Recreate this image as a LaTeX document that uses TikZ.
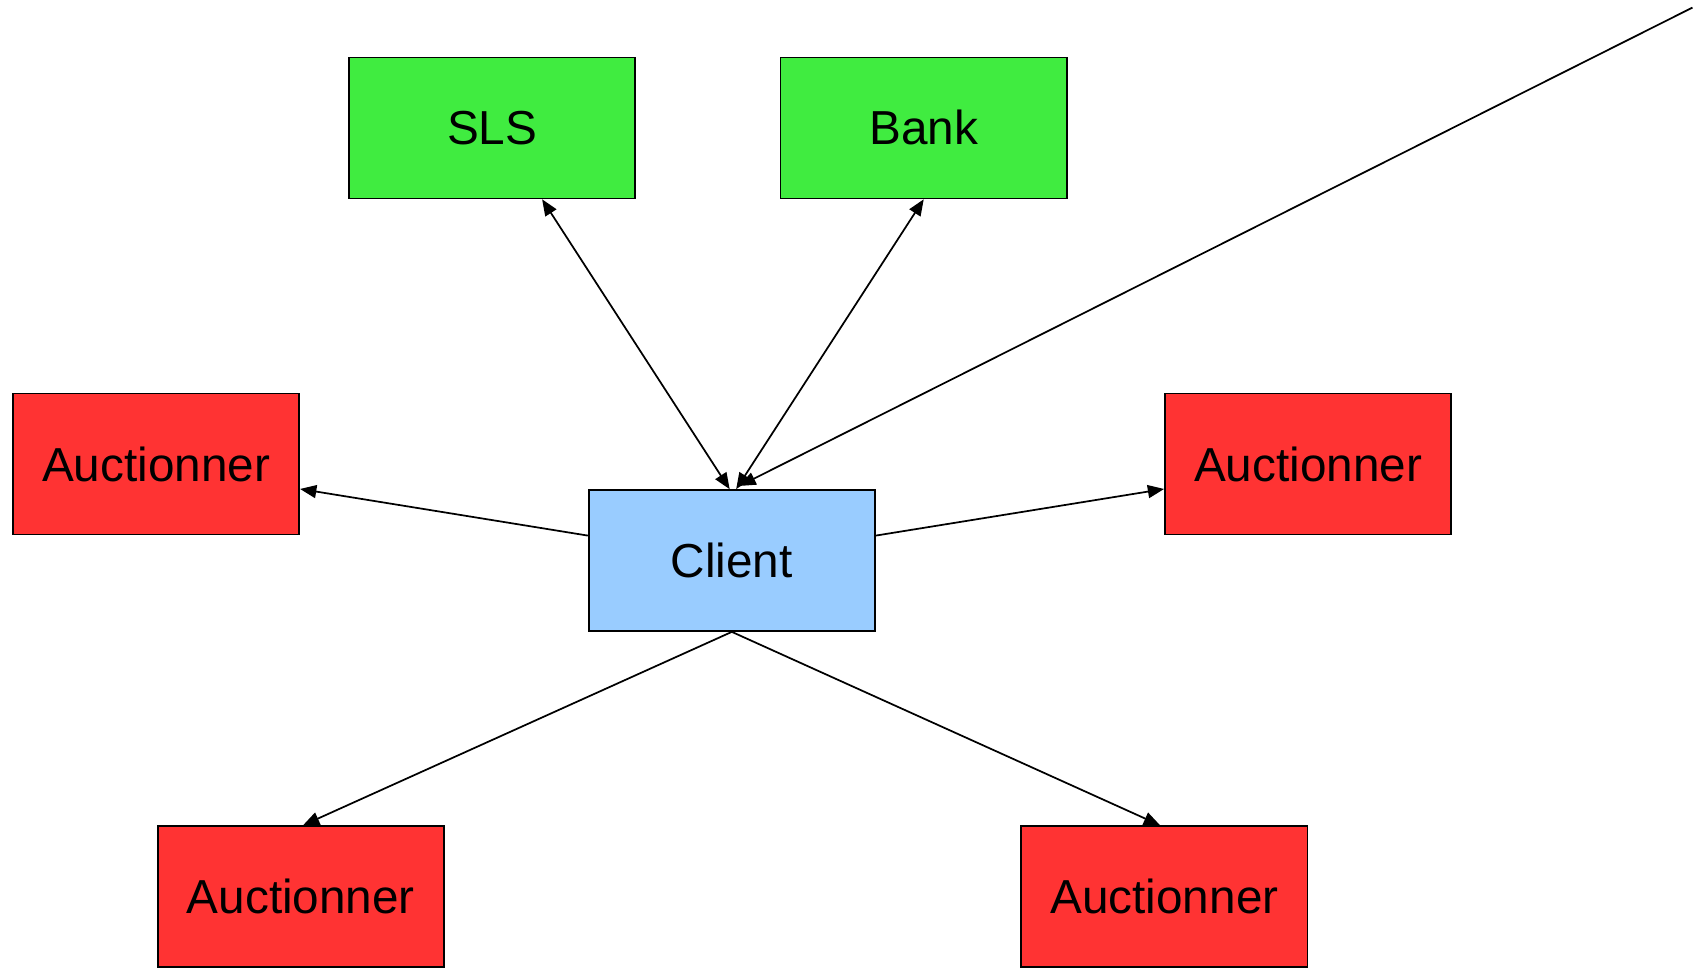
\documentclass[tikz,border=0pt]{standalone}
\usepackage{fontspec}
\setmainfont{Liberation Sans}
\usetikzlibrary{arrows.meta}
\definecolor{boxgreen}{RGB}{64,236,64}
\definecolor{boxred}{RGB}{255,51,51}
\definecolor{boxblue}{RGB}{153,204,255}
\begin{document}
\begin{tikzpicture}[x=1pt,y=-1pt,
  box/.style={draw=black,line width=1.6pt,minimum width=264pt,minimum height=130pt,inner sep=0pt,
    font=\fontsize{44}{52}\selectfont},
  gbox/.style={box,fill=boxgreen},
  rbox/.style={box,fill=boxred},
  bbox/.style={box,fill=boxblue},
  conn/.style={line width=1.6pt,-{Triangle[length=15pt,width=12pt]}},
  bconn/.style={line width=1.6pt,{Triangle[length=15pt,width=12pt]}-{Triangle[length=15pt,width=12pt]}}]
\useasboundingbox (0,0) rectangle (1568,892);
\node[gbox] (sls) at (454,118) {SLS};
\node[gbox] (bank) at (852,118) {Bank};
\node[rbox] (al) at (144,428) {Auctionner};
\node[rbox] (ar) at (1206.5,428) {Auctionner};
\node[bbox] (client) at (675,517) {Client};
\node[rbox] (bl) at (277.5,827) {Auctionner};
\node[rbox] (br) at (1074,827) {Auctionner};
\coordinate (far) at (1561,7);
\draw[bconn] ([xshift=46]sls.south) -- ([xshift=-2]client.north);
\draw[bconn] (bank.south) -- ([xshift=4]client.north);
\draw[conn] (far) -- ([xshift=7,yshift=3]client.north);
\draw[conn] ([yshift=23]client.west) -- ([yshift=-23]al.east);
\draw[conn] ([yshift=23]client.east) -- ([yshift=-23]ar.west);
\draw[conn] (client.south) -- ([xshift=2]bl.north);
\draw[conn] (client.south) -- ([xshift=-4]br.north);
\end{tikzpicture}
\end{document}
